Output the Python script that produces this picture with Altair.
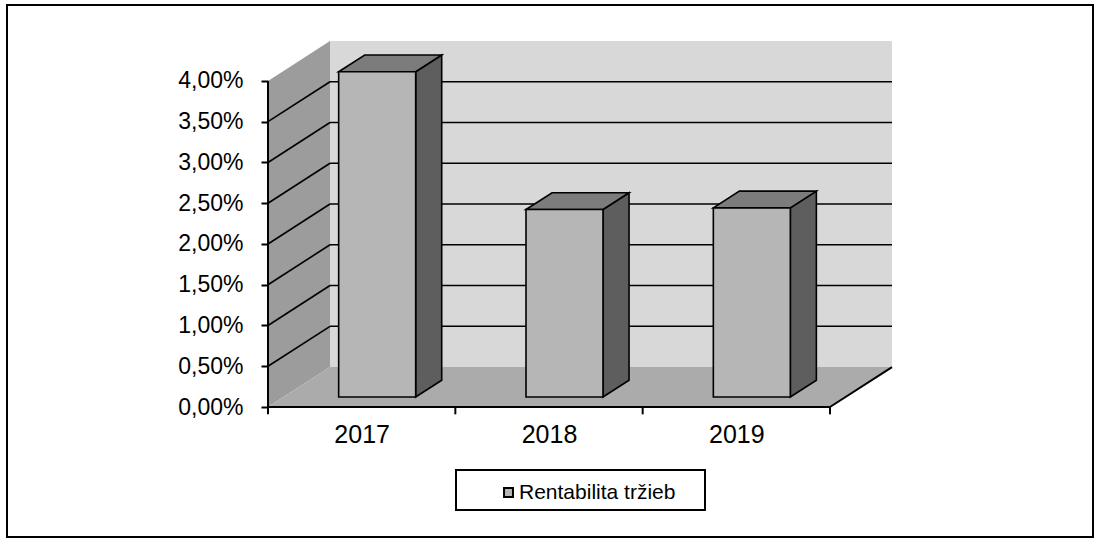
import altair as alt
import pandas as pd

# ---- data ----
years = ["2017", "2018", "2019"]
values = [3.99, 2.30, 2.32]          # Rentabilita tržieb, in %
series_name = "Rentabilita tržieb"
y_ticks = [0, 0.5, 1.0, 1.5, 2.0, 2.5, 3.0, 3.5, 4.0]
wall_lines = [0.5, 1.0, 1.5, 2.0, 2.5, 3.0, 3.5]

# ---- 3-D look parameters (in scale units) ----
DX = 0.331      # depth shift along x (category units)
DY = 0.49       # depth shift along y (percent units)
F0, F1 = 0.25, 0.67   # bar front / back depth fraction
HALF_W = 0.2055       # half bar width (category units)
YMAX = 4.0
N = len(years)

xs = alt.Scale(domain=[0, N + DX], nice=False, zero=False)
ys = alt.Scale(domain=[0, YMAX + DY], nice=False, zero=False)


def X(field="x:Q"):
    return alt.X(field, scale=xs, title=None)


def Y(field="y:Q"):
    return alt.Y(field, scale=ys, title=None)


# walls / floor polygons (area: x, upper y, lower y2)
wall_rows = []
for x, yu, yl in [(0, YMAX, 0), (DX, YMAX + DY, DY)]:
    wall_rows.append(dict(g="left", x=x, y=yu, y2=yl, fill="#9c9c9c"))
for x, yu, yl in [(0, 0, 0), (DX, DY, 0), (N, DY, 0), (N + DX, DY, DY)]:
    wall_rows.append(dict(g="floor", x=x, y=yu, y2=yl, fill="#ababab"))
walls = pd.DataFrame(wall_rows)

back = pd.DataFrame([dict(x=DX, x2=N + DX, y=DY, y2=YMAX + DY)])

grid_back = pd.DataFrame([dict(x=DX, x2=N + DX, y=v + DY) for v in wall_lines])
grid_left = pd.DataFrame([dict(x=0, x2=DX, y=v, y2=v + DY) for v in wall_lines])

# bars
fronts, faces = [], []
ddx, ddy = (F1 - F0) * DX, (F1 - F0) * DY
for i, (yr, v) in enumerate(zip(years, values)):
    xl = i + 0.5 - HALF_W + F0 * DX
    xr = i + 0.5 + HALF_W + F0 * DX
    base = F0 * DY
    top = v + F0 * DY
    fronts.append(dict(year=yr, series=series_name, x=xl, x2=xr, y=base, y2=top))
    faces.append(dict(g=f"side{i}", x=xr, y=top, y2=base, fill="#5e5e5e"))
    faces.append(dict(g=f"side{i}", x=xr + ddx, y=top + ddy, y2=base + ddy, fill="#5e5e5e"))
    for x, yu, yl in [(xl, top, top), (xl + ddx, top + ddy, top),
                      (xr, top + ddy, top), (xr + ddx, top + ddy, top + ddy)]:
        faces.append(dict(g=f"top{i}", x=x, y=yu, y2=yl, fill="#7c7c7c"))
fronts = pd.DataFrame(fronts)
faces = pd.DataFrame(faces)

edges = pd.DataFrame([
    dict(x=0, x2=N, y=0, y2=0),          # front floor edge (x axis)
    dict(x=N, x2=N + DX, y=0, y2=DY),    # right floor edge
    dict(x=0, x2=0, y=0, y2=YMAX),       # y axis line
])
xticks = pd.DataFrame([dict(x=k, y=0, y2=-0.09) for k in range(N + 1)])

FONT = "Liberation Sans"
label_expr = "[" + ",".join(f"'{y}'" for y in years) + "][floor(datum.value)]"

# ---- layers ----
back_layer = alt.Chart(back).mark_rect(fill="#d8d8d8").encode(
    x=alt.X("x:Q", scale=xs, title=None, axis=alt.Axis(
        values=[k + 0.5 for k in range(N)], labelExpr=label_expr, title=None,
        domain=False, ticks=False, grid=False, labelFont=FONT, labelFontSize=25,
        labelColor="black", labelPadding=15)),
    x2="x2:Q",
    y=alt.Y("y:Q", scale=ys, title=None, axis=alt.Axis(
        values=y_ticks, labelExpr="replace(format(datum.value, '.2f'), '.', ',') + '%'",
        title=None, domain=False, grid=False, tickSize=7, tickWidth=2, tickColor="black",
        labelFont=FONT, labelFontSize=23, labelColor="black", labelPadding=18)),
    y2="y2:Q",
)

walls_layer = alt.Chart(walls).mark_area(orient="vertical").encode(
    x=X(), y=Y(), y2="y2:Q", detail="g:N",
    fill=alt.Fill("fill:N", scale=None),
)

grid_back_layer = alt.Chart(grid_back).mark_rule(color="black", strokeWidth=1.6).encode(
    x=X(), x2="x2:Q", y=Y(),
)
grid_left_layer = alt.Chart(grid_left).mark_rule(color="black", strokeWidth=1.6).encode(
    x=X(), x2="x2:Q", y=Y(), y2="y2:Q",
)

front_layer = alt.Chart(fronts).mark_rect(stroke="black", strokeWidth=1.6).encode(
    x=X(), x2="x2:Q", y=Y(), y2="y2:Q",
    color=alt.Color("series:N", scale=alt.Scale(range=["#b6b6b6"]), legend=alt.Legend(
        title=None, orient="none", legendX=230, legendY=441, padding=0,
        symbolType="square", symbolSize=80, symbolStrokeColor="black",
        symbolStrokeWidth=2, labelFont=FONT, labelFontSize=21, labelColor="black",
        labelOffset=0)),
)

faces_layer = alt.Chart(faces).mark_area(orient="vertical", stroke="black",
                                         strokeWidth=1.6).encode(
    x=X(), y=Y(), y2="y2:Q", detail="g:N",
    fill=alt.Fill("fill:N", scale=None),
)

edges_layer = alt.Chart(edges).mark_rule(color="black", strokeWidth=2).encode(
    x=X(), x2="x2:Q", y=Y(), y2="y2:Q",
)
xticks_layer = alt.Chart(xticks).mark_rule(color="black", strokeWidth=2).encode(
    x=X(), y=Y(), y2="y2:Q",
)

dummy = pd.DataFrame({"k": [0]})
frame = alt.Chart(dummy).mark_rect(fill="transparent", stroke="black", strokeWidth=2).encode(
    x=alt.value(-261), x2=alt.value(825), y=alt.value(-36), y2=alt.value(496))
legend_box = alt.Chart(dummy).mark_rect(fill="transparent", stroke="black", strokeWidth=2).encode(
    x=alt.value(188), x2=alt.value(437), y=alt.value(429), y2=alt.value(469))

chart = alt.layer(
    back_layer, walls_layer, grid_back_layer, grid_left_layer,
    faces_layer, front_layer, edges_layer, xticks_layer, frame, legend_box,
).properties(
    width=624, height=366,
    autosize=alt.AutoSizeParams(type="none"),
    padding={"left": 268, "top": 41, "right": 211, "bottom": 131},
    background="white",
).configure_view(stroke=None)

chart.save("out.html", embed_options={"renderer": "svg", "actions": False})
